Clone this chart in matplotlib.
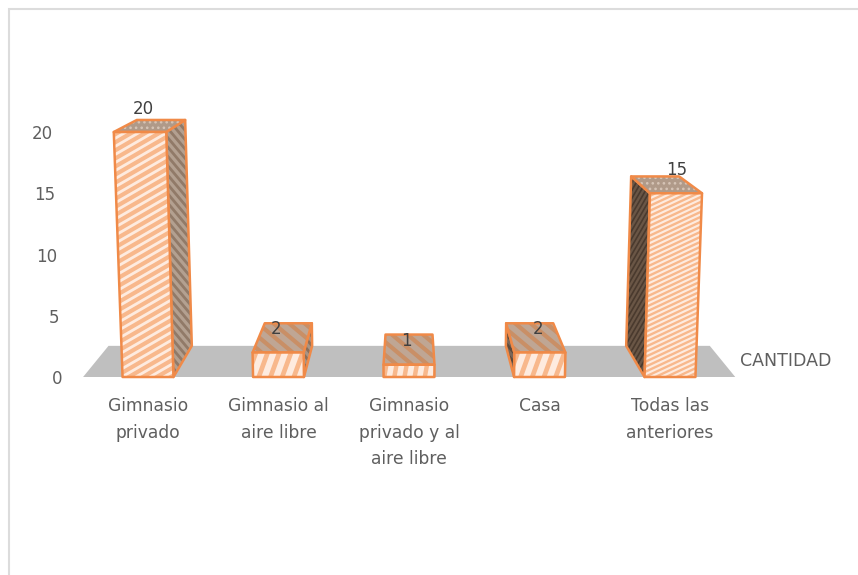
import numpy as np
import matplotlib
matplotlib.use("Agg")
import matplotlib.pyplot as plt
from matplotlib.collections import LineCollection
from matplotlib.patches import Polygon, Rectangle
from matplotlib.transforms import IdentityTransform, ScaledTranslation

categories = ["Gimnasio\nprivado", "Gimnasio al\naire libre", "Gimnasio\nprivado y al\naire libre",
              "Casa", "Todas las\nanteriores"]
values = [20, 2, 1, 2, 15]
y_ticks = [0, 5, 10, 15, 20]
series_name = "CANTIDAD"

W, H = 858, 575
plt.rcParams["font.family"] = ["DejaVu Sans"]
plt.rcParams["hatch.linewidth"] = 1.1
TEXT = "#5F5F5F"
ORANGE = "#F08A48"

fig = plt.figure(figsize=(W / 100, H / 100), dpi=100)
fig.patch.set_facecolor("white")

# plot area: value 0 sits at y=377 px, value 20 at y=132 px, categories 130.5 px apart
PX_X, PX_Y = 130.5, 12.25
X0_PX, Y0_PX = 148.0, 377.0
left, right = 62.0, 800.0
top_val = 25.0
ax = fig.add_axes([left / W, (H - Y0_PX) / H, (right - left) / W, top_val * PX_Y / H])
ax.set_xlim((left - X0_PX) / PX_X, (right - X0_PX) / PX_X)
ax.set_ylim(0, top_val)
ax.patch.set_alpha(0)
for s in ax.spines.values():
    s.set_visible(False)

# simple perspective of the 3D column chart
CX = 2.0
SHRINK = 0.922
VANISH = 32.6
LEAN = 0.00153
HALF = 0.195


def project(x, v, back=False):
    xp = CX + (x - CX) * (1 + LEAN * v)
    vp = v
    if back:
        xp = CX + (xp - CX) * SHRINK
        vp = VANISH + (v - VANISH) * SHRINK
    return (xp, vp)


def stripes(poly, angle, spacing, lw, color):
    """Clip parallel lines to a polygon; angle and spacing are in pixels."""
    pts = ax.transData.transform(poly.get_xy())
    c = pts.mean(axis=0)
    r = np.hypot(*(pts - c).T).max() + spacing
    d = np.array([np.cos(np.radians(angle)), np.sin(np.radians(angle))])
    n = np.array([-d[1], d[0]])
    offsets = np.arange(-r, r + spacing, spacing)
    segs = [[c + o * n - r * d, c + o * n + r * d] for o in offsets]
    lc = LineCollection(segs, colors=color, linewidths=lw, transform=IdentityTransform(),
                        zorder=poly.get_zorder())
    ax.add_collection(lc, autolim=False)
    lc.set_clip_path(poly)


def face(corners, fill, z, stripe=None, dots=None):
    base = Polygon(corners, closed=True, facecolor=fill, edgecolor="none", zorder=z, clip_on=False)
    ax.add_patch(base)
    if stripe:
        stripes(base, *stripe)
    if dots:
        ax.add_patch(Polygon(corners, closed=True, facecolor="none", edgecolor=dots, hatch="...",
                             linewidth=0, zorder=z, clip_on=False))
    ax.add_patch(Polygon(corners, closed=True, facecolor="none", edgecolor=ORANGE, linewidth=1.8,
                         joinstyle="round", zorder=z, clip_on=False))


# floor
floor = [project(-0.4975, 0), project(4.5, 0), project(4.5, 0, True), project(-0.4975, 0, True)]
ax.add_patch(Polygon(floor, closed=True, facecolor="#BFBFBF", edgecolor="none", zorder=1, clip_on=False))

# per-column fill patterns: front (angle, spacing, width), top, side
front_styles = [(30, 7, 3.0), (70, 11, 3.4), (80, 10, 3.2), (70, 11, 3.4), (25, 4.5, 1.7)]
top_styles = [None, (-40, 10, 3.0), (-40, 10, 3.0), (-40, 10, 3.0), None]
side_styles = [("#B3A090", (-50, 6, 2.0, "#917A68")), ("#A89484", (-50, 6, 2.0, "#8C6F5A")), None,
               ("#7A6658", (-50, 6, 2.0, "#5E4A3C")), ("#6A5646", (60, 4, 1.2, "#4A3A2E"))]
# small sideways nudges of the value labels, in pixels
label_nudge = [3, -2, -3, -2, 1]

for i, v in enumerate(values):
    a, b = i - HALF, i + HALF
    z = 2 + i * 0.01
    fbl, fbr = project(a, 0), project(b, 0)
    ftl, ftr = project(a, v), project(b, v)
    btl, btr = project(a, v, True), project(b, v, True)
    bbl, bbr = project(a, 0, True), project(b, 0, True)
    if side_styles[i]:
        fill, st = side_styles[i]
        corners = [fbr, ftr, btr, bbr] if i < CX else [fbl, ftl, btl, bbl]
        face(corners, fill, z, stripe=st)
    if top_styles[i]:
        face([ftl, ftr, btr, btl], "#BFA694", z + 0.001, stripe=top_styles[i] + ("#C98F66",))
    else:
        face([ftl, ftr, btr, btl], "#B09A89", z + 0.001, dots="#D6C4B6")
    face([fbl, fbr, ftr, ftl], "#FEEBDF", z + 0.002, stripe=front_styles[i] + ("#F8B88C",))
    # value label floats above the middle of the front face
    lx, lv = project(i, v)
    ax.text(lx + label_nudge[i] / PX_X, lv + 23.5 / PX_Y, str(v), ha="center", va="center",
            color="#404040", fontsize=12, zorder=5, clip_on=False)

ax.set_xticks(range(len(categories)))
ax.set_xticklabels(categories, color=TEXT, fontsize=12.3, linespacing=1.6)
ax.set_yticks(y_ticks)
ax.set_yticklabels([str(t) for t in y_ticks], color=TEXT, fontsize=12)
ax.tick_params(length=0)
ax.tick_params(axis="x", pad=14.5)
ax.tick_params(axis="y", pad=0)

# the value axis leans with the perspective, so higher labels sit further left
for t, lab in zip(y_ticks, ax.get_yticklabels()):
    lab.set_transform(lab.get_transform() + ScaledTranslation(-0.0045 * t, 0, fig.dpi_scale_trans))

ax.text(project(4.54, 0)[0], 16 / PX_Y, series_name, color=TEXT, fontsize=12.5, ha="left", va="center",
        clip_on=False)

# chart frame
fig.add_artist(Rectangle((8.5 / W, -0.02), 1.1, (H - 8.5) / H + 0.02, transform=fig.transFigure,
                         facecolor="none", edgecolor="#DCDCDC", linewidth=1.5))

fig.savefig("out.png", dpi=100)
